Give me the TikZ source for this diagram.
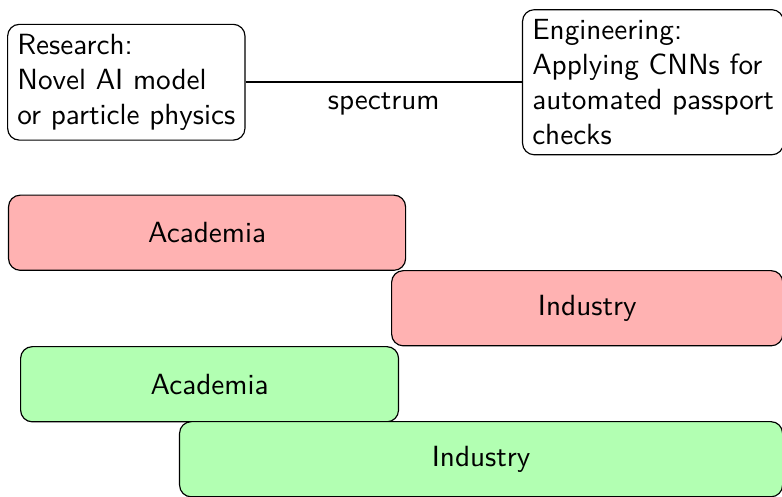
\documentclass[tikz,border=0pt]{standalone}
\begin{document}
\begin{tikzpicture}[font=\sffamily, idea/.style={draw, rounded corners, align=left}, bar/.style={draw, rounded corners, minimum height=0.905cm, anchor=west}]
        \useasboundingbox (0, 0.99) rectangle (9.415, -4.985);
        \node[idea, anchor=west] (research) at (0.085, 0) {Research:\\Novel AI model\\or particle physics};
        \node[idea, anchor=east] (engineering) at (9.44, 0) {Engineering:\\Applying CNNs for\\automated passport\\checks};
        \draw[thick] (research) -- node[below] {spectrum} (engineering);
        \node[bar, fill=red!30, minimum width=4.78cm] (acadred) at (0.096, -1.812) {Academia};
        \node[bar, fill=red!30, minimum width=4.71cm] (indred) at (4.708, -2.721) {Industry};
        \node[bar, fill=green!30, minimum width=4.55cm] (acadgreen) at (0.241, -3.636) {Academia};
        \node[bar, fill=green!30, minimum width=7.26cm] (indgreen) at (2.155, -4.539) {Industry};
\end{tikzpicture}
\end{document}
